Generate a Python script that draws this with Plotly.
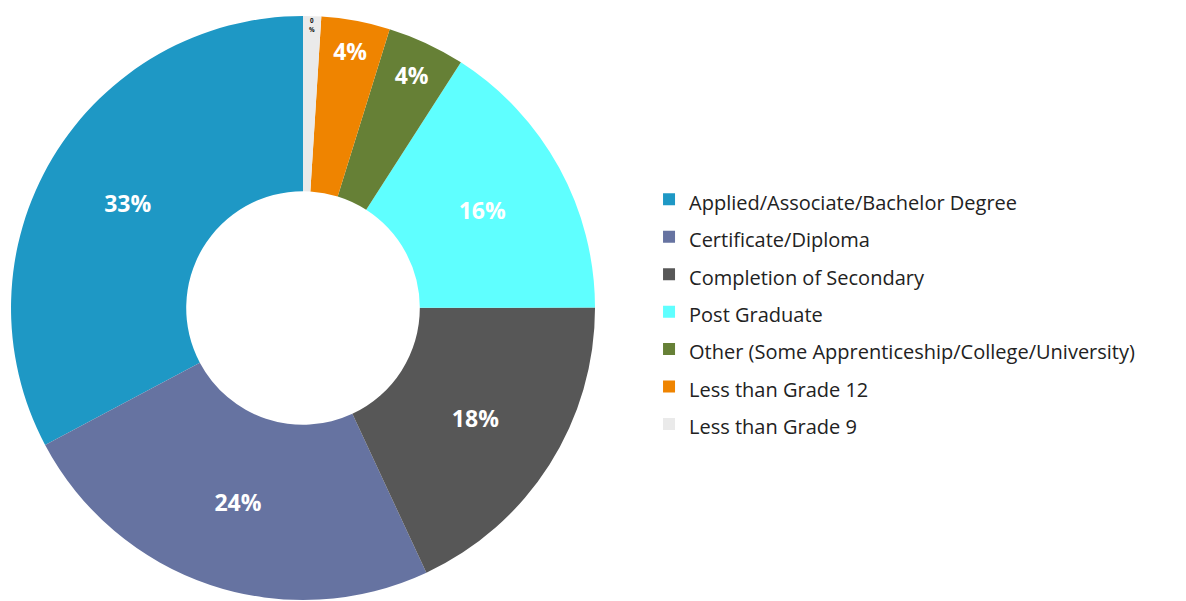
import plotly.graph_objects as go

labels = [
    "Applied/Associate/Bachelor Degree",
    "Certificate/Diploma",
    "Completion of Secondary",
    "Post Graduate",
    "Other (Some Apprenticeship/College/University)",
    "Less than Grade 12",
    "Less than Grade 9",
]
values = [32.8, 24.2, 18.1, 15.9, 4.3, 3.8, 1.0]
pct_text = ["33%", "24%", "18%", "16%", "4%", "4%", "0<br>%"]

colors = ["#1e98c5", "#6673a1", "#575757", "#5fffff", "#668036", "#ef8400", "#eaeaea"]
text_colors = ["#ffffff"] * 6 + ["#111111"]

# legend rows are spaced by the legend font size, the visible text is sized by the span
legend_labels = [f"<span style='font-size:20px'>{lbl}</span>" for lbl in labels]

# first slice starts at 12 o'clock and runs counterclockwise
start = -360 * values[0] / sum(values)

fig = go.Figure(go.Pie(
    labels=legend_labels,
    values=values,
    text=pct_text,
    textinfo="text",
    hole=0.4,
    sort=False,
    direction="counterclockwise",
    rotation=start,
    marker=dict(colors=colors, line=dict(width=0)),
    textposition="inside",
    insidetextorientation="horizontal",
    insidetextfont=dict(family="Open Sans", size=23, weight="bold", color=text_colors),
    domain=dict(x=[0, 0.4975], y=[0, 1]),
    hoverinfo="label+percent",
))

fig.update_layout(
    width=1186,
    height=601,
    margin=dict(l=0, r=0, t=8, b=9),
    paper_bgcolor="white",
    plot_bgcolor="white",
    font=dict(family="Open Sans", color="#222222"),
    legend=dict(
        x=0.5405,
        y=0.493,
        yanchor="middle",
        font=dict(family="Open Sans", size=26.5, color="#222222"),
    ),
)

fig.write_html("out.html")
